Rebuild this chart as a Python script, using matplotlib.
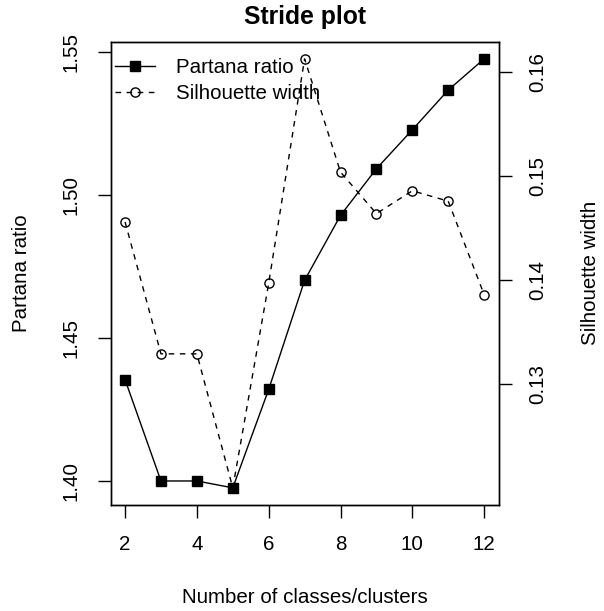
import numpy as np
import matplotlib
matplotlib.use('Agg')
import matplotlib.pyplot as plt

plt.rcParams['font.family'] = ['Liberation Sans', 'DejaVu Sans']

# values
clusters = [2, 3, 4, 5, 6, 7, 8, 9, 10, 11, 12]
partana = [1.4354, 1.4000, 1.4000, 1.3976, 1.4320, 1.4701, 1.4928, 1.5091, 1.5227, 1.5366, 1.5475]
silhouette = [0.1456, 0.1329, 0.1329, 0.1200, 0.1397, 0.1613, 0.1504, 0.1464, 0.1486, 0.1476, 0.1386]
left_ticks = [1.40, 1.45, 1.50, 1.55]
right_ticks = [0.13, 0.14, 0.15, 0.16]
x_ticks = [2, 4, 6, 8, 10, 12]

W, H = 604, 611
fs = 14.8


def r_lim(v):
    # R style 4% padding
    lo, hi = min(v), max(v)
    d = (hi - lo) * 0.04
    return lo - d, hi + d


fig = plt.figure(figsize=(W / 100, H / 100), dpi=100)
ax = fig.add_axes([110.7 / W, 1 - 505 / H, (498.5 - 110.7) / W, (505 - 41.7) / H])
ax2 = ax.twinx()

l1, = ax.plot(clusters, partana, color='black', lw=1.0, marker='s', ms=7.2,
              mfc='black', mec='black', label='Partana ratio')
l2, = ax2.plot(clusters, silhouette, color='black', lw=1.0, ls=(0, (4, 4)), marker='o',
               ms=6.6, mfc='none', mec='black', mew=1.0, label='Silhouette width')

ax.set_xlim(r_lim(clusters))
ax.set_ylim(r_lim(partana))
ax2.set_ylim(r_lim(silhouette))

ax.set_xticks(x_ticks)
ax.set_yticks(left_ticks)
ax.set_yticklabels(['%.2f' % t for t in left_ticks])
ax2.set_yticks(right_ticks)
ax2.set_yticklabels(['%.2f' % t for t in right_ticks])

ax.tick_params(axis='x', length=9.4, width=1.0, pad=12, labelsize=fs)
ax.tick_params(axis='y', length=9.4, width=1.0, pad=12, labelsize=fs, labelrotation=90)
ax2.tick_params(axis='y', length=9.4, width=1.0, pad=12, labelsize=fs, labelrotation=90)
for t in ax.get_yticklabels() + ax2.get_yticklabels():
    t.set_va('center')

for a in (ax, ax2):
    for s in a.spines.values():
        s.set_linewidth(1.0)

ax.set_xlabel('Number of classes/clusters', fontsize=fs)
ax.xaxis.set_label_coords(0.5, -0.2007)
ax.xaxis.label.set_va('center')
ax.set_ylabel('Partana ratio', fontsize=fs)
ax.yaxis.set_label_coords(-0.230, 0.5)
ax.yaxis.label.set_va('center')
ax2.set_ylabel('Silhouette width', fontsize=fs)
ax2.yaxis.set_label_coords(1.236, 0.5)
ax2.yaxis.label.set_va('center')

ax.text(0.5, 1.054, 'Stride plot', transform=ax.transAxes, ha='center', va='center',
        fontsize=17.8, fontweight='bold')

fig.legend([l1, l2], ['Partana ratio', 'Silhouette width'], loc='upper left',
           bbox_to_anchor=(115 / W, 1 - 58 / H), frameon=False, fontsize=fs,
           handlelength=1.95, handletextpad=1.0, borderpad=0, borderaxespad=0,
           labelspacing=0.35, numpoints=1)

fig.savefig('out.png', dpi=100)
